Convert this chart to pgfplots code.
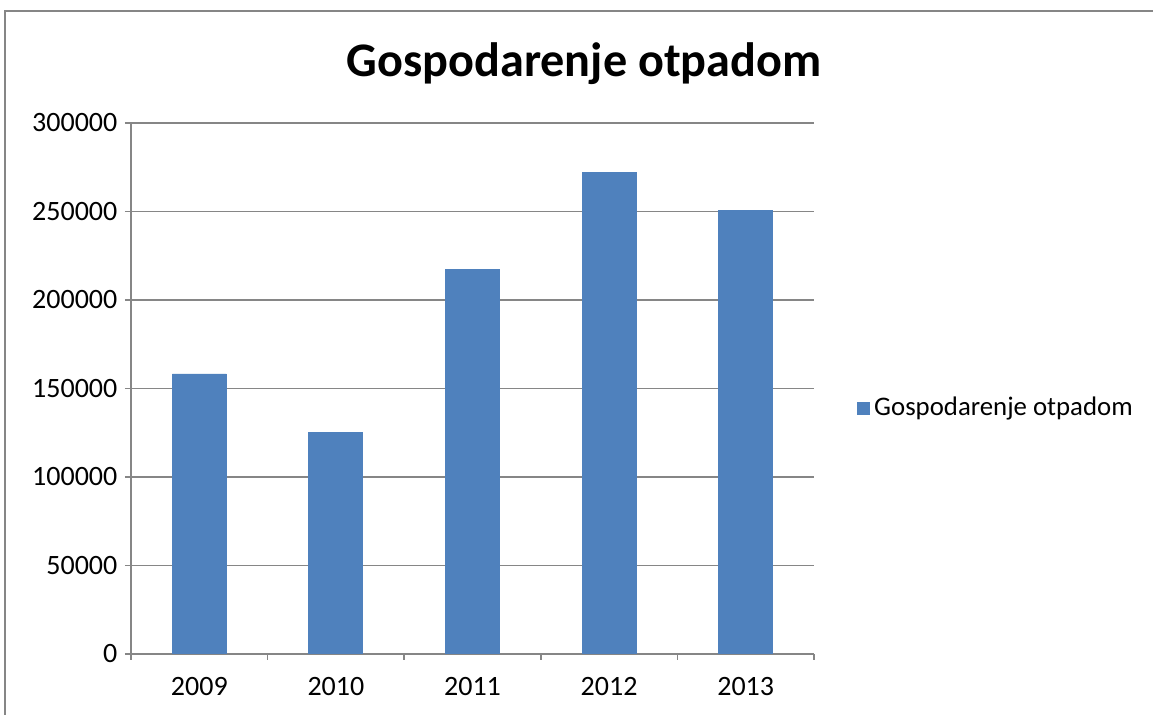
\documentclass[border=0pt]{standalone}
\usepackage{pgfplots}
\pgfplotsset{compat=1.18}
\usepackage{fontspec}
\setmainfont{Carlito}
\definecolor{barblue}{HTML}{4F81BD}
\definecolor{gridgray}{HTML}{868686}
\begin{document}
\begin{tikzpicture}
\useasboundingbox (0,0) rectangle (576.5pt,357.5pt);
\clip (0,0) rectangle (576.5pt,357.5pt);
\fill[white] (0,0) rectangle (576.5pt,357.5pt);
\draw[gridgray, line width=0.8pt] (2.5pt,-10pt) -- (2.5pt,352pt) -- (600pt,352pt);
\node[font=\fontsize{24.1}{29}\selectfont\bfseries, anchor=base] at (292pt,319pt) {Gospodarenje otpadom};
\begin{axis}[
  at={(65.5pt,30.5pt)}, anchor=south west,
  width=341.5pt, height=265.5pt, scale only axis,
  xmin=-0.5, xmax=4.5, ymin=0, ymax=300000,
  axis lines=left, axis line style={-, gridgray, line width=0.8pt},
  xtick={0,1,2,3,4}, xticklabels={2009,2010,2011,2012,2013},
  minor xtick={-0.5,0.5,1.5,2.5,3.5,4.5},
  ytick={0,50000,100000,150000,200000,250000,300000},
  minor ytick={0,50000,100000,150000,200000,250000,300000},
  major tick length=0pt, minor tick length=3pt,
  tick align=outside,
  minor tick style={gridgray, line width=0.8pt},
  ymajorgrids, major grid style={gridgray, line width=0.8pt},
  scaled y ticks=false,
  /pgf/number format/.cd, fixed, set thousands separator={}, assume math mode=true,
  /pgfplots/.cd,
  ticklabel style={font=\fontsize{14}{17}\selectfont},
  yticklabel style={xshift=-3.3pt},
  xticklabel style={yshift=-8pt},
  legend style={at={(1.063,0.463)}, anchor=west, draw=none, fill=none,
    font=\fontsize{13.4}{16}\selectfont, inner sep=0pt,
    /tikz/every even column/.append style={column sep=0pt}},
  legend cell align=left,
]
\addplot[ybar, bar width=27pt, fill=barblue, draw=barblue,
  area legend,
  legend image code/.code={\fill[barblue] (0pt,-3pt) rectangle (6pt,3pt);}]
  coordinates {(0,158200) (1,125400) (2,217000) (3,272300) (4,250800)};
\addlegendentry{Gospodarenje otpadom}
\end{axis}
\end{tikzpicture}
\end{document}
